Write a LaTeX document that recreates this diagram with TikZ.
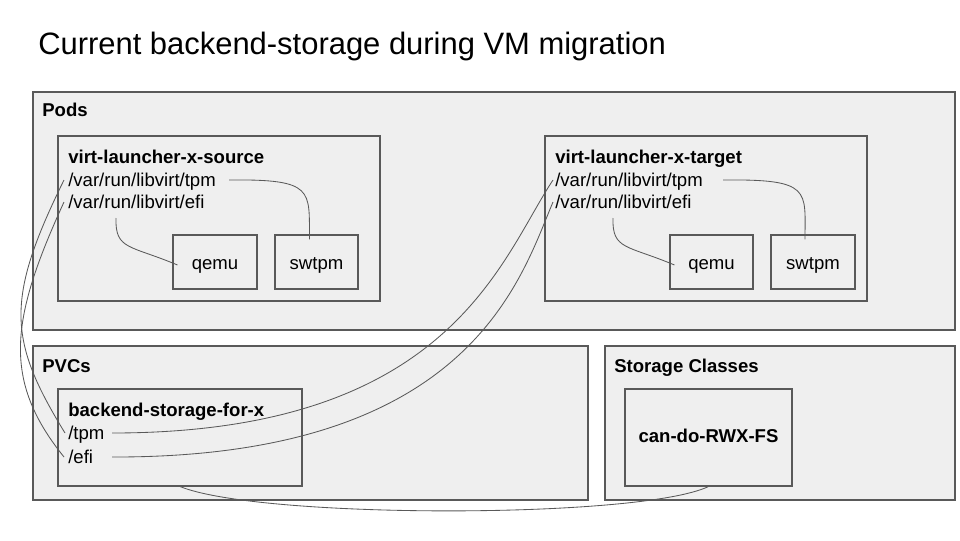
\documentclass[tikz,border=0pt]{standalone}
\usepackage{fontspec}
\setmainfont{Liberation Sans}
\usepackage{tikz}
\usetikzlibrary{positioning, calc, fit}
\definecolor{boxgray}{RGB}{239,239,239}
\definecolor{linegray}{RGB}{89,89,89}
\definecolor{textdark}{RGB}{0,0,0}
\tikzset{
  groupbox/.style={rectangle, draw=linegray, fill=boxgray,
    line width=0.75pt, inner sep=0pt},
  grouplabel/.style={anchor=west, inner sep=0pt, text height=11pt, text depth=1.3pt,
    font=\fontsize{13.2}{16}\selectfont\bfseries},
  pathlabel/.style={anchor=west, inner sep=0pt, text height=11pt, text depth=1.3pt},
  boxtext/.style={text height=10pt, text depth=0pt, inner sep=0pt},
  wire/.style={draw=linegray, line width=0.6pt}
}
\begin{document}
\begin{tikzpicture}[x=0.025cm, y=-0.025cm,
  every node/.style={font=\fontsize{13.2}{16}\selectfont, text=textdark}]
  \useasboundingbox (0,0) rectangle (960,540);

  % Title
  \node[anchor=west, inner sep=0pt, font=\fontsize{22}{26}\selectfont] (title) at (38,46)
    {Current backend-storage during VM migration};

  % Pods
  \node[groupbox, fit={(33,92) (955,330)}] (pods) {};
  \node[grouplabel] (podslbl) at (42,110) {Pods};

  % Source launcher pod
  \node[groupbox, fit={(58,136) (380,301)}] (src) {};
  \node[grouplabel] (srcname) at (68,157) {virt-launcher-x-source};
  \node[pathlabel] (srctpm) at (68,180) {/var/run/libvirt/tpm};
  \node[pathlabel] (srcefi) at (68,202) {/var/run/libvirt/efi};
  \node[groupbox, fit={(173,235) (257,289)}, label={[boxtext]center:qemu}] (srcqemu) {};
  \node[groupbox, fit={(275,235) (358,289)}, label={[boxtext]center:swtpm}] (srcswtpm) {};

  % Target launcher pod
  \node[groupbox, fit={(545,136) (867,301)}] (tgt) {};
  \node[grouplabel] (tgtname) at (555,157) {virt-launcher-x-target};
  \node[pathlabel] (tgttpm) at (555,180) {/var/run/libvirt/tpm};
  \node[pathlabel] (tgtefi) at (555,202) {/var/run/libvirt/efi};
  \node[groupbox, fit={(670,235) (753,289)}, label={[boxtext]center:qemu}] (tgtqemu) {};
  \node[groupbox, fit={(771,235) (855,289)}, label={[boxtext]center:swtpm}] (tgtswtpm) {};

  % PVCs
  \node[groupbox, fit={(33,346) (588,500)}] (pvcs) {};
  \node[grouplabel] (pvcslbl) at (42,366) {PVCs};
  \node[groupbox, fit={(58,389) (302,486)}] (backend) {};
  \node[grouplabel] (backendname) at (68,410) {backend-storage-for-x};
  \node[pathlabel] (pvctpm) at (68,433) {/tpm};
  \node[pathlabel] (pvcefi) at (68,457) {/efi};

  % Storage classes
  \node[groupbox, fit={(605,346) (955,500)}] (sc) {};
  \node[grouplabel] (sclbl) at (614,366) {Storage Classes};
  \node[groupbox, fit={(625,389) (792,486)},
    label={[boxtext, text height=9.5pt, text depth=3pt, font=\fontsize{13.2}{16}\selectfont\bfseries]center:can-do-RWX-FS}] (cando) {};

  % inside the pods
  \draw[wire] ($(srctpm.east)+(13,0)$) .. controls (315,179) and (309,190) .. ($(srcswtpm.north)+(-7,5)$);
  \draw[wire] ($(srcefi.west)+(48,16)$) .. controls (115,250) and (130,245) .. ($(srcqemu.west)+(5,3)$);
  \draw[wire] ($(tgttpm.east)+(20,0)$) .. controls (812,179) and (805,190) .. ($(tgtswtpm.north)+(-8,5)$);
  \draw[wire] ($(tgtefi.west)+(58,16)$) .. controls (612,250) and (627,245) .. ($(tgtqemu.west)+(5,3)$);

  % pvc to source pod
  \draw[wire] ($(srctpm.west)+(-4,0)$) .. controls (5,300) and (8,340) .. ($(pvctpm.west)+(-3,0)$);
  \draw[wire] ($(srcefi.west)+(-4,0)$) .. controls (10,320) and (2,380) .. ($(pvcefi.west)+(-4,0)$);

  % pvc to target pod
  \draw[wire] ($(pvctpm.west)+(44,0)$) .. controls (450,433) and (500,260) .. ($(tgttpm.west)+(-2,0)$);
  \draw[wire] ($(pvcefi.west)+(44,0)$) .. controls (470,458) and (520,280) .. ($(tgtefi.west)+(-2,0)$);

  % pvc to storage class
  \draw[wire] (backend.south) .. controls (260,519) and (640,519) .. (cando.south);
\end{tikzpicture}
\end{document}
